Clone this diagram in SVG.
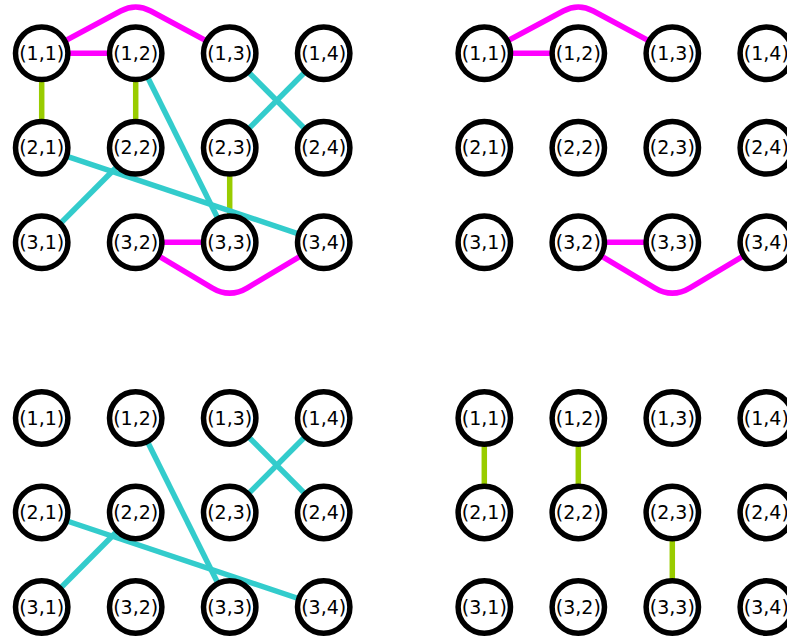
<svg xmlns="http://www.w3.org/2000/svg" width="787" height="641" viewBox="0 0 787 641">
<style>
.n circle{fill:#fff;stroke:#000;stroke-width:5.5}
.n text{font-family:"DejaVu Sans",sans-serif;font-size:19px;text-anchor:middle;fill:#000}
.e{fill:none;stroke-width:5.5;stroke-linejoin:round}
.p{stroke:#ff00ff}
.c{stroke:#33cccc}
.g{stroke:#99cc00}
</style>
<rect width="787" height="641" fill="#fff"/>
<g id="connectors">
<line class="e p" x1="41.7" y1="53.3" x2="135.7" y2="53.3"/>
<path class="e p" d="M41.7,53.3 L120.7,11 Q135.7,3 150.7,11 L229.7,53.3"/>
<line class="e p" x1="135.7" y1="242.3" x2="229.7" y2="242.3"/>
<path class="e p" d="M135.7,242.3 L212,287.8 Q229.7,298.5 247.4,287.8 L323.7,242.3"/>
<line class="e g" x1="41.7" y1="53.3" x2="41.7" y2="147.8"/>
<line class="e g" x1="135.7" y1="53.3" x2="135.7" y2="147.8"/>
<line class="e g" x1="229.7" y1="147.8" x2="229.7" y2="242.3"/>
<line class="e c" x1="229.7" y1="53.3" x2="323.7" y2="147.8"/>
<line class="e c" x1="323.7" y1="53.3" x2="229.7" y2="147.8"/>
<line class="e c" x1="135.7" y1="53.3" x2="229.7" y2="242.3"/>
<line class="e c" x1="41.7" y1="147.8" x2="323.7" y2="242.3"/>
<line class="e c" x1="41.7" y1="242.3" x2="135.7" y2="147.8"/>
<line class="e p" x1="484.3" y1="53.3" x2="578.3" y2="53.3"/>
<path class="e p" d="M484.3,53.3 L563.3,11 Q578.3,3 593.3,11 L672.3,53.3"/>
<line class="e p" x1="578.3" y1="242.3" x2="672.3" y2="242.3"/>
<path class="e p" d="M578.3,242.3 L654.6,287.8 Q672.3,298.5 690,287.8 L766.3,242.3"/>
<line class="e c" x1="229.7" y1="418" x2="323.7" y2="512.5"/>
<line class="e c" x1="323.7" y1="418" x2="229.7" y2="512.5"/>
<line class="e c" x1="135.7" y1="418" x2="229.7" y2="607"/>
<line class="e c" x1="41.7" y1="512.5" x2="323.7" y2="607"/>
<line class="e c" x1="41.7" y1="607" x2="135.7" y2="512.5"/>
<line class="e g" x1="484.3" y1="418" x2="484.3" y2="512.5"/>
<line class="e g" x1="578.3" y1="418" x2="578.3" y2="512.5"/>
<line class="e g" x1="672.3" y1="512.5" x2="672.3" y2="607"/>
</g>
<g id="panelA">
<g id="a11" class="n"><circle cx="41.7" cy="53.3" r="26.2"/><text x="41.7" y="59.8">(1,1)</text></g>
<g id="a12" class="n"><circle cx="135.7" cy="53.3" r="26.2"/><text x="135.7" y="59.8">(1,2)</text></g>
<g id="a13" class="n"><circle cx="229.7" cy="53.3" r="26.2"/><text x="229.7" y="59.8">(1,3)</text></g>
<g id="a14" class="n"><circle cx="323.7" cy="53.3" r="26.2"/><text x="323.7" y="59.8">(1,4)</text></g>
<g id="a21" class="n"><circle cx="41.7" cy="147.8" r="26.2"/><text x="41.7" y="154.3">(2,1)</text></g>
<g id="a22" class="n"><circle cx="135.7" cy="147.8" r="26.2"/><text x="135.7" y="154.3">(2,2)</text></g>
<g id="a23" class="n"><circle cx="229.7" cy="147.8" r="26.2"/><text x="229.7" y="154.3">(2,3)</text></g>
<g id="a24" class="n"><circle cx="323.7" cy="147.8" r="26.2"/><text x="323.7" y="154.3">(2,4)</text></g>
<g id="a31" class="n"><circle cx="41.7" cy="242.3" r="26.2"/><text x="41.7" y="248.8">(3,1)</text></g>
<g id="a32" class="n"><circle cx="135.7" cy="242.3" r="26.2"/><text x="135.7" y="248.8">(3,2)</text></g>
<g id="a33" class="n"><circle cx="229.7" cy="242.3" r="26.2"/><text x="229.7" y="248.8">(3,3)</text></g>
<g id="a34" class="n"><circle cx="323.7" cy="242.3" r="26.2"/><text x="323.7" y="248.8">(3,4)</text></g>
</g>
<g id="panelB">
<g id="b11" class="n"><circle cx="484.3" cy="53.3" r="26.2"/><text x="484.3" y="59.8">(1,1)</text></g>
<g id="b12" class="n"><circle cx="578.3" cy="53.3" r="26.2"/><text x="578.3" y="59.8">(1,2)</text></g>
<g id="b13" class="n"><circle cx="672.3" cy="53.3" r="26.2"/><text x="672.3" y="59.8">(1,3)</text></g>
<g id="b14" class="n"><circle cx="766.3" cy="53.3" r="26.2"/><text x="766.3" y="59.8">(1,4)</text></g>
<g id="b21" class="n"><circle cx="484.3" cy="147.8" r="26.2"/><text x="484.3" y="154.3">(2,1)</text></g>
<g id="b22" class="n"><circle cx="578.3" cy="147.8" r="26.2"/><text x="578.3" y="154.3">(2,2)</text></g>
<g id="b23" class="n"><circle cx="672.3" cy="147.8" r="26.2"/><text x="672.3" y="154.3">(2,3)</text></g>
<g id="b24" class="n"><circle cx="766.3" cy="147.8" r="26.2"/><text x="766.3" y="154.3">(2,4)</text></g>
<g id="b31" class="n"><circle cx="484.3" cy="242.3" r="26.2"/><text x="484.3" y="248.8">(3,1)</text></g>
<g id="b32" class="n"><circle cx="578.3" cy="242.3" r="26.2"/><text x="578.3" y="248.8">(3,2)</text></g>
<g id="b33" class="n"><circle cx="672.3" cy="242.3" r="26.2"/><text x="672.3" y="248.8">(3,3)</text></g>
<g id="b34" class="n"><circle cx="766.3" cy="242.3" r="26.2"/><text x="766.3" y="248.8">(3,4)</text></g>
</g>
<g id="panelC">
<g id="c11" class="n"><circle cx="41.7" cy="418" r="26.2"/><text x="41.7" y="424.5">(1,1)</text></g>
<g id="c12" class="n"><circle cx="135.7" cy="418" r="26.2"/><text x="135.7" y="424.5">(1,2)</text></g>
<g id="c13" class="n"><circle cx="229.7" cy="418" r="26.2"/><text x="229.7" y="424.5">(1,3)</text></g>
<g id="c14" class="n"><circle cx="323.7" cy="418" r="26.2"/><text x="323.7" y="424.5">(1,4)</text></g>
<g id="c21" class="n"><circle cx="41.7" cy="512.5" r="26.2"/><text x="41.7" y="519">(2,1)</text></g>
<g id="c22" class="n"><circle cx="135.7" cy="512.5" r="26.2"/><text x="135.7" y="519">(2,2)</text></g>
<g id="c23" class="n"><circle cx="229.7" cy="512.5" r="26.2"/><text x="229.7" y="519">(2,3)</text></g>
<g id="c24" class="n"><circle cx="323.7" cy="512.5" r="26.2"/><text x="323.7" y="519">(2,4)</text></g>
<g id="c31" class="n"><circle cx="41.7" cy="607" r="26.2"/><text x="41.7" y="613.5">(3,1)</text></g>
<g id="c32" class="n"><circle cx="135.7" cy="607" r="26.2"/><text x="135.7" y="613.5">(3,2)</text></g>
<g id="c33" class="n"><circle cx="229.7" cy="607" r="26.2"/><text x="229.7" y="613.5">(3,3)</text></g>
<g id="c34" class="n"><circle cx="323.7" cy="607" r="26.2"/><text x="323.7" y="613.5">(3,4)</text></g>
</g>
<g id="panelD">
<g id="d11" class="n"><circle cx="484.3" cy="418" r="26.2"/><text x="484.3" y="424.5">(1,1)</text></g>
<g id="d12" class="n"><circle cx="578.3" cy="418" r="26.2"/><text x="578.3" y="424.5">(1,2)</text></g>
<g id="d13" class="n"><circle cx="672.3" cy="418" r="26.2"/><text x="672.3" y="424.5">(1,3)</text></g>
<g id="d14" class="n"><circle cx="766.3" cy="418" r="26.2"/><text x="766.3" y="424.5">(1,4)</text></g>
<g id="d21" class="n"><circle cx="484.3" cy="512.5" r="26.2"/><text x="484.3" y="519">(2,1)</text></g>
<g id="d22" class="n"><circle cx="578.3" cy="512.5" r="26.2"/><text x="578.3" y="519">(2,2)</text></g>
<g id="d23" class="n"><circle cx="672.3" cy="512.5" r="26.2"/><text x="672.3" y="519">(2,3)</text></g>
<g id="d24" class="n"><circle cx="766.3" cy="512.5" r="26.2"/><text x="766.3" y="519">(2,4)</text></g>
<g id="d31" class="n"><circle cx="484.3" cy="607" r="26.2"/><text x="484.3" y="613.5">(3,1)</text></g>
<g id="d32" class="n"><circle cx="578.3" cy="607" r="26.2"/><text x="578.3" y="613.5">(3,2)</text></g>
<g id="d33" class="n"><circle cx="672.3" cy="607" r="26.2"/><text x="672.3" y="613.5">(3,3)</text></g>
<g id="d34" class="n"><circle cx="766.3" cy="607" r="26.2"/><text x="766.3" y="613.5">(3,4)</text></g>
</g>
</svg>
